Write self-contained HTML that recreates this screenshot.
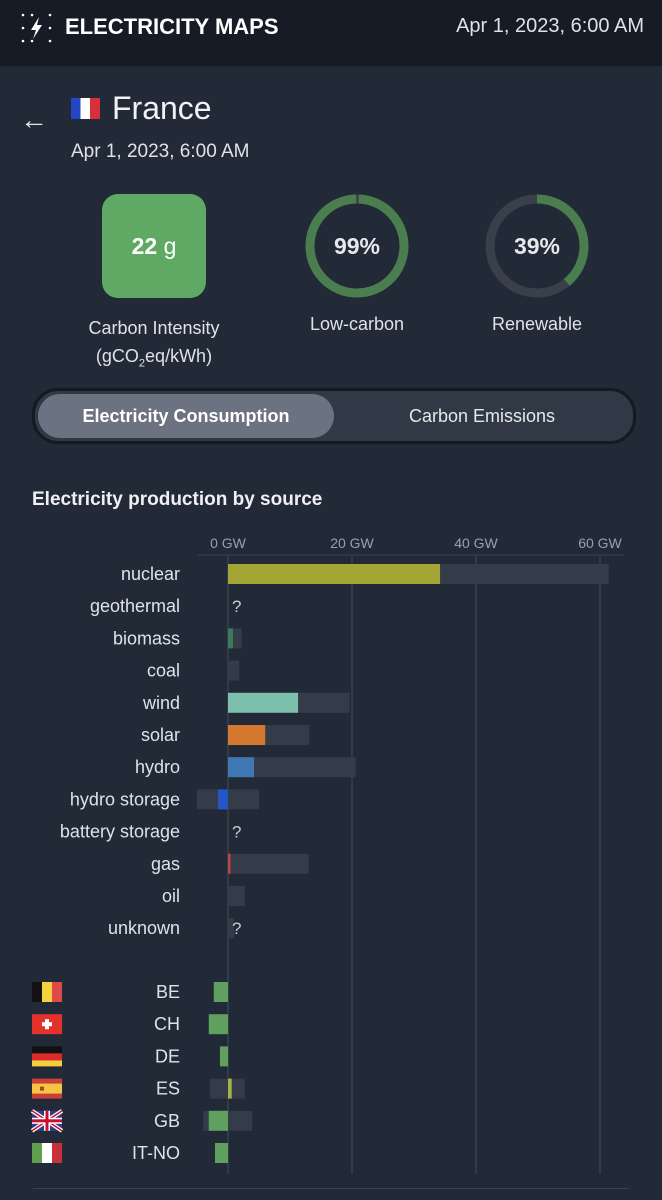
<!DOCTYPE html>
<html><head><meta charset="utf-8">
<style>
body{margin:0;width:662px;height:1200px;background:#222937;font-family:"Liberation Sans",sans-serif;color:#e6e8ec;overflow:hidden;position:relative}
.abs{position:absolute}
</style></head><body>
<div class="abs" style="left:0;top:0;width:662px;height:66px;background:#161b26"></div>
<svg class="abs" style="left:20px;top:12px" width="34" height="32">
<g fill="#fff"><circle cx="3" cy="3" r="1.3"/><circle cx="12" cy="3" r="1.3"/><circle cx="30" cy="3" r="1.3"/><circle cx="3" cy="29" r="1.3"/><circle cx="12" cy="29" r="1.3"/><circle cx="30" cy="29" r="1.3"/><circle cx="3" cy="16" r="1.3"/><circle cx="30" cy="16" r="1.3"/>
<path d="M19 5 L11 18 L16 18 L13 27 L22 13 L17 13 Z"/></g></svg>
<div class="abs" style="left:65px;top:14px;font-size:22px;font-weight:bold;color:#fff">ELECTRICITY MAPS</div>
<div class="abs" style="right:18px;top:15px;font-size:20px;color:#dfe2e8">Apr 1, 2023, 6:00 AM</div>

<div class="abs" style="left:20px;top:104px;font-size:28px;color:#dfe2e8">&#8592;</div>
<div class="abs" style="left:71px;top:98px;width:29px;height:21px;background:linear-gradient(90deg,#2346c5 33%,#fff 33% 66%,#d7303a 66%)"></div>
<div class="abs" style="left:112px;top:90px;font-size:32px;color:#f1f2f5">France</div>
<div class="abs" style="left:71px;top:141px;font-size:19px;color:#dfe2e8">Apr 1, 2023, 6:00 AM</div>

<div class="abs" style="left:102px;top:194px;width:104px;height:104px;border-radius:16px;background:#60a965;display:flex;align-items:center;justify-content:center;font-size:23px;color:#fff"><b>22</b>&nbsp;g</div>
<div class="abs" style="left:54px;top:314px;width:200px;text-align:center;font-size:18px;line-height:28px;color:#dfe2e8">Carbon Intensity<br>(gCO<sub style="font-size:11px">2</sub>eq/kWh)</div>

<svg class="abs" style="left:304px;top:193px" width="106" height="106">
<circle cx="53" cy="53" r="47" fill="none" stroke="#3a404b" stroke-width="9"/>
<circle cx="53" cy="53" r="47" fill="none" stroke="#4b7e4f" stroke-width="9" stroke-dasharray="292.3 295.3" transform="rotate(-88 53 53)"/>
<text x="53" y="61" text-anchor="middle" font-size="23" font-weight="bold" fill="#e6e8ec" font-family="Liberation Sans">99%</text></svg>
<div class="abs" style="left:277px;top:314px;width:160px;text-align:center;font-size:18px;color:#dfe2e8">Low-carbon</div>
<svg class="abs" style="left:484px;top:193px" width="106" height="106">
<circle cx="53" cy="53" r="47" fill="none" stroke="#3a404b" stroke-width="9"/>
<circle cx="53" cy="53" r="47" fill="none" stroke="#4b7e4f" stroke-width="9" stroke-dasharray="115.2 295.3" transform="rotate(-90 53 53)"/>
<text x="53" y="61" text-anchor="middle" font-size="23" font-weight="bold" fill="#e6e8ec" font-family="Liberation Sans">39%</text></svg>
<div class="abs" style="left:457px;top:314px;width:160px;text-align:center;font-size:18px;color:#dfe2e8">Renewable</div>

<div class="abs" style="left:32px;top:388px;width:598px;height:50px;border-radius:26px;background:#323946;border:3px solid #151922"></div>
<div class="abs" style="left:38px;top:394px;width:296px;height:44px;border-radius:22px;background:#6b7281;display:flex;align-items:center;justify-content:center;font-size:18px;font-weight:bold;color:#fff">Electricity Consumption</div>
<div class="abs" style="left:334px;top:394px;width:296px;height:44px;display:flex;align-items:center;justify-content:center;font-size:18px;color:#e6e8ec">Carbon Emissions</div>

<div class="abs" style="left:32px;top:489px;font-size:19px;font-weight:bold;color:#eef0f3">Electricity production by source</div>

<svg id="chart" class="abs" style="left:0;top:0" width="662" height="1200" font-family="Liberation Sans"></svg>
<div class="abs" style="left:33px;top:1188px;width:596px;height:1px;background:#3a4150"></div>

<script>
const sources=["nuclear","geothermal","biomass","coal","wind","solar","hydro","hydro storage","battery storage","gas","oil","unknown"];
const production=[34.2,null,0.8,0,11.3,6.0,4.2,-1.6,null,0.4,0,null];
const capacityMin=[0,0,0,0,0,0,0,-5.0,0,0,0,0];
const capacityMax=[61.4,0,2.2,1.8,19.6,13.1,20.6,5.0,0,13.0,2.7,1.0];
const sourceColors=["#a3a534","#888","#3d7a5c","#555","#7dbfad","#d4792f","#3f78b5","#2456c8","#888","#c0454e","#666","#888"];
const zones=["BE","CH","DE","ES","GB","IT-NO"];
const exchange=[-2.3,-3.1,-1.3,0.6,-3.1,-2.1];
const exchCapMin=[0,0,0,-2.9,-4.0,0];
const exchCapMax=[0,0,0,2.7,3.9,0];
const ticks=[0,20,40,60];
const tickLabels=["0 GW","20 GW","40 GW","60 GW"];

const svg=document.getElementById('chart');
const NS="http://www.w3.org/2000/svg";
const x=v=>228+v*6.2;
const ySrc=i=>574+i*32.2;
const yEx=i=>992+i*32.2;
function mk(t,a){const e=document.createElementNS(NS,t);for(const k in a)e.setAttribute(k,a[k]);svg.appendChild(e);return e;}

ticks.forEach((t,i)=>{
  const l=mk('line',{x1:x(t),x2:x(t),y1:556,y2:1174,stroke:'#3d4452','stroke-width':1.3});
  
  
  const tx=mk('text',{x:x(t),y:548,'text-anchor':'middle','font-size':14,fill:'#9aa0ab'});
  tx.textContent=tickLabels[i];
  
  
});
const ax=mk('line',{x1:198,x2:624,y1:555,y2:555,stroke:'#3d4452','stroke-width':1});



sources.forEach((s,i)=>{
  const yc=ySrc(i);
  const lab=mk('text',{x:180,y:yc+6,'text-anchor':'end','font-size':18,fill:'#dfe2e8'});
  lab.textContent=s;
  
  
  if(capacityMax[i]-capacityMin[i]>0){
    const c=mk('rect',{x:x(capacityMin[i]),y:yc-10,width:x(capacityMax[i])-x(capacityMin[i]),height:20,fill:'#353c49'});
    
    
  }
  if(production[i]===null){
    const q=mk('text',{x:232,y:yc+6,'font-size':17,fill:'#c8ccd3'});
    q.textContent='?';
    
    
  } else if(production[i]!==0){
    const v=production[i];
    const b=mk('rect',{x:Math.min(x(0),x(v)),y:yc-10,width:Math.abs(x(v)-x(0)),height:20,fill:sourceColors[i]});
    
    
  }
});

const flagDefs={
 BE:'<rect width="10" height="20" fill="#111"/><rect x="10" width="10" height="20" fill="#f4d23e"/><rect x="20" width="10" height="20" fill="#e04848"/>',
 CH:'<rect width="30" height="20" fill="#e4312b"/><rect x="13" y="5" width="4" height="10" fill="#fff"/><rect x="10" y="8" width="10" height="4" fill="#fff"/>',
 DE:'<rect width="30" height="7" fill="#111"/><rect y="7" width="30" height="7" fill="#dd2a2a"/><rect y="14" width="30" height="6" fill="#f6cd3a"/>',
 ES:'<rect width="30" height="20" fill="#c9403a"/><rect y="5" width="30" height="10" fill="#f4c542"/><rect x="8" y="8" width="4" height="4" fill="#a0442a"/>',
 GB:'<rect width="30" height="20" fill="#2c3f8f"/><path d="M0 0L30 20M30 0L0 20" stroke="#fff" stroke-width="4"/><path d="M0 0L30 20M30 0L0 20" stroke="#c8102e" stroke-width="1.5"/><rect x="12" width="6" height="20" fill="#fff"/><rect y="7" width="30" height="6" fill="#fff"/><rect x="13.5" width="3" height="20" fill="#c8102e"/><rect y="8.5" width="30" height="3" fill="#c8102e"/>',
 'IT-NO':'<rect width="10" height="20" fill="#5ea04f"/><rect x="10" width="10" height="20" fill="#fff"/><rect x="20" width="10" height="20" fill="#c8303a"/>'
};
zones.forEach((z,i)=>{
  const yc=yEx(i);
  const g=mk('g',{transform:`translate(32,${yc-10})`});
  g.innerHTML=flagDefs[z];
  
  
  const lab=mk('text',{x:180,y:yc+6,'text-anchor':'end','font-size':18,fill:'#dfe2e8'});
  lab.textContent=z;
  
  
  if(exchCapMax[i]-exchCapMin[i]>0){
    const c=mk('rect',{x:x(exchCapMin[i]),y:yc-10,width:x(exchCapMax[i])-x(exchCapMin[i]),height:20,fill:'#353c49'});
    
    
  }
  const v=exchange[i];
  const b=mk('rect',{x:Math.min(x(0),x(v)),y:yc-10,width:Math.abs(x(v)-x(0)),height:20,fill:v>0?'#a4b246':'#5fa05f'});
  
  
});
</script>
</body></html>
